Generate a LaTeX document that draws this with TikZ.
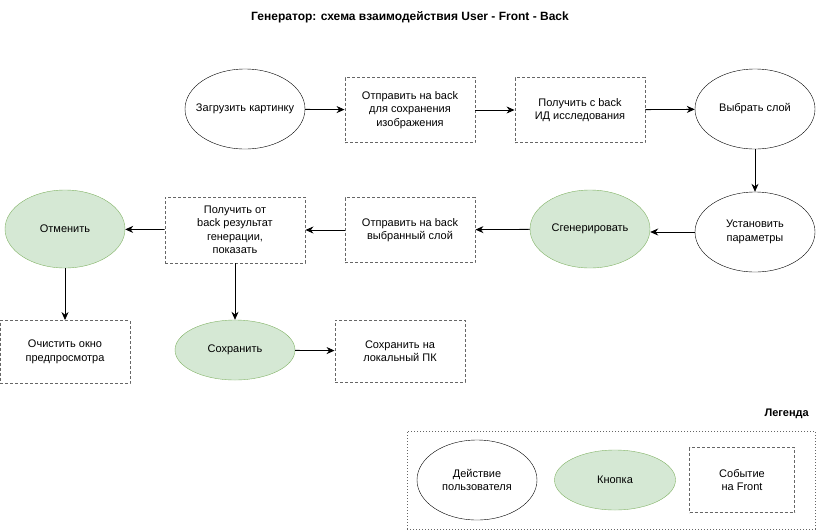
\documentclass[tikz,border=0pt]{standalone}
\usepackage{fontspec}
\setmainfont{Liberation Sans}
\usetikzlibrary{shapes.geometric,arrows.meta}
\definecolor{gfill}{HTML}{D5E8D4}
\definecolor{gline}{HTML}{82B366}
\definecolor{dgray}{HTML}{666666}
\begin{document}
\begin{tikzpicture}[x=1pt,y=-1pt,
  every node/.style={font=\fontsize{11}{13.5}\selectfont, align=center, inner sep=0pt},
  act/.style={ellipse, draw=black, inner xsep=-14pt, minimum width=120pt, minimum height=80pt},
  btn/.style={ellipse, draw=gline, fill=gfill, inner xsep=-14pt, minimum width=120pt, minimum height=78pt},
  ev/.style={draw=dgray, dashed, dash pattern=on 3pt off 2pt, line width=0.9pt, minimum width=130pt, minimum height=65pt},
  arr/.style={-{Stealth[length=8pt,width=7pt]}, line width=0.8pt}]
\useasboundingbox (0,0) rectangle (816,531);
\node[font=\fontsize{12}{14}\selectfont\bfseries] (title) at (410,17) {Генератор: схема взаимодействия User - Front - Back};

\node[act] (load) at (245,109) {Загрузить картинку};
\node[ev] (send) at (410,110) {Отправить на back\\для сохранения\\изображения};
\node[ev] (getid) at (580,110) {Получить с back\\ ИД исследования};
\node[act] (layer) at (755,109) {Выбрать слой};
\node[act] (params) at (755,232) {Установить\\параметры};
\node[btn] (gen) at (590,229) {Сгенерировать};
\node[ev] (sendl) at (410,230) {Отправить на back\\выбранный слой};
\node[ev, minimum width=140pt, minimum height=66pt] (res) at (235,230) {Получить от\\back результат\\генерации,\\показать};
\node[btn] (cancel) at (65,229) {Отменить};
\node[ev, minimum height=63pt] (clear) at (65,352) {Очистить окно\\предпросмотра};
\node[btn, minimum height=60pt] (save) at (235,350) {Сохранить};
\node[ev, minimum height=62pt] (savepc) at (400,351) {Сохранить на\\локальный ПК};

\draw[arr] (load) -- (send);
\draw[arr] (send) -- (getid);
\draw[arr] (getid) -- (layer);
\draw[arr] (layer) -- (params);
\draw[arr] (params.west) -- (gen.east |- params.west);
\draw[arr] (gen) -- (sendl);
\draw[arr] (sendl) -- (res);
\draw[arr] (res) -- (cancel);
\draw[arr] (cancel) -- (clear);
\draw[arr] (res) -- (save);
\draw[arr] (save) -- (savepc);

\node[font=\fontsize{11}{13}\selectfont\bfseries, anchor=east] (legt) at (809,414) {Легенда};
\node[draw=dgray, dotted, line width=1pt, minimum width=408pt, minimum height=98pt] (legbox) at (611,480) {};
\node[act] (la) at (477,480) {Действие\\пользователя};
\node[btn, minimum width=121pt, minimum height=60pt] (lb) at (615,480) {Кнопка};
\node[ev, minimum width=105pt] (lc) at (742,480) {Событие\\на Front};
\end{tikzpicture}
\end{document}
